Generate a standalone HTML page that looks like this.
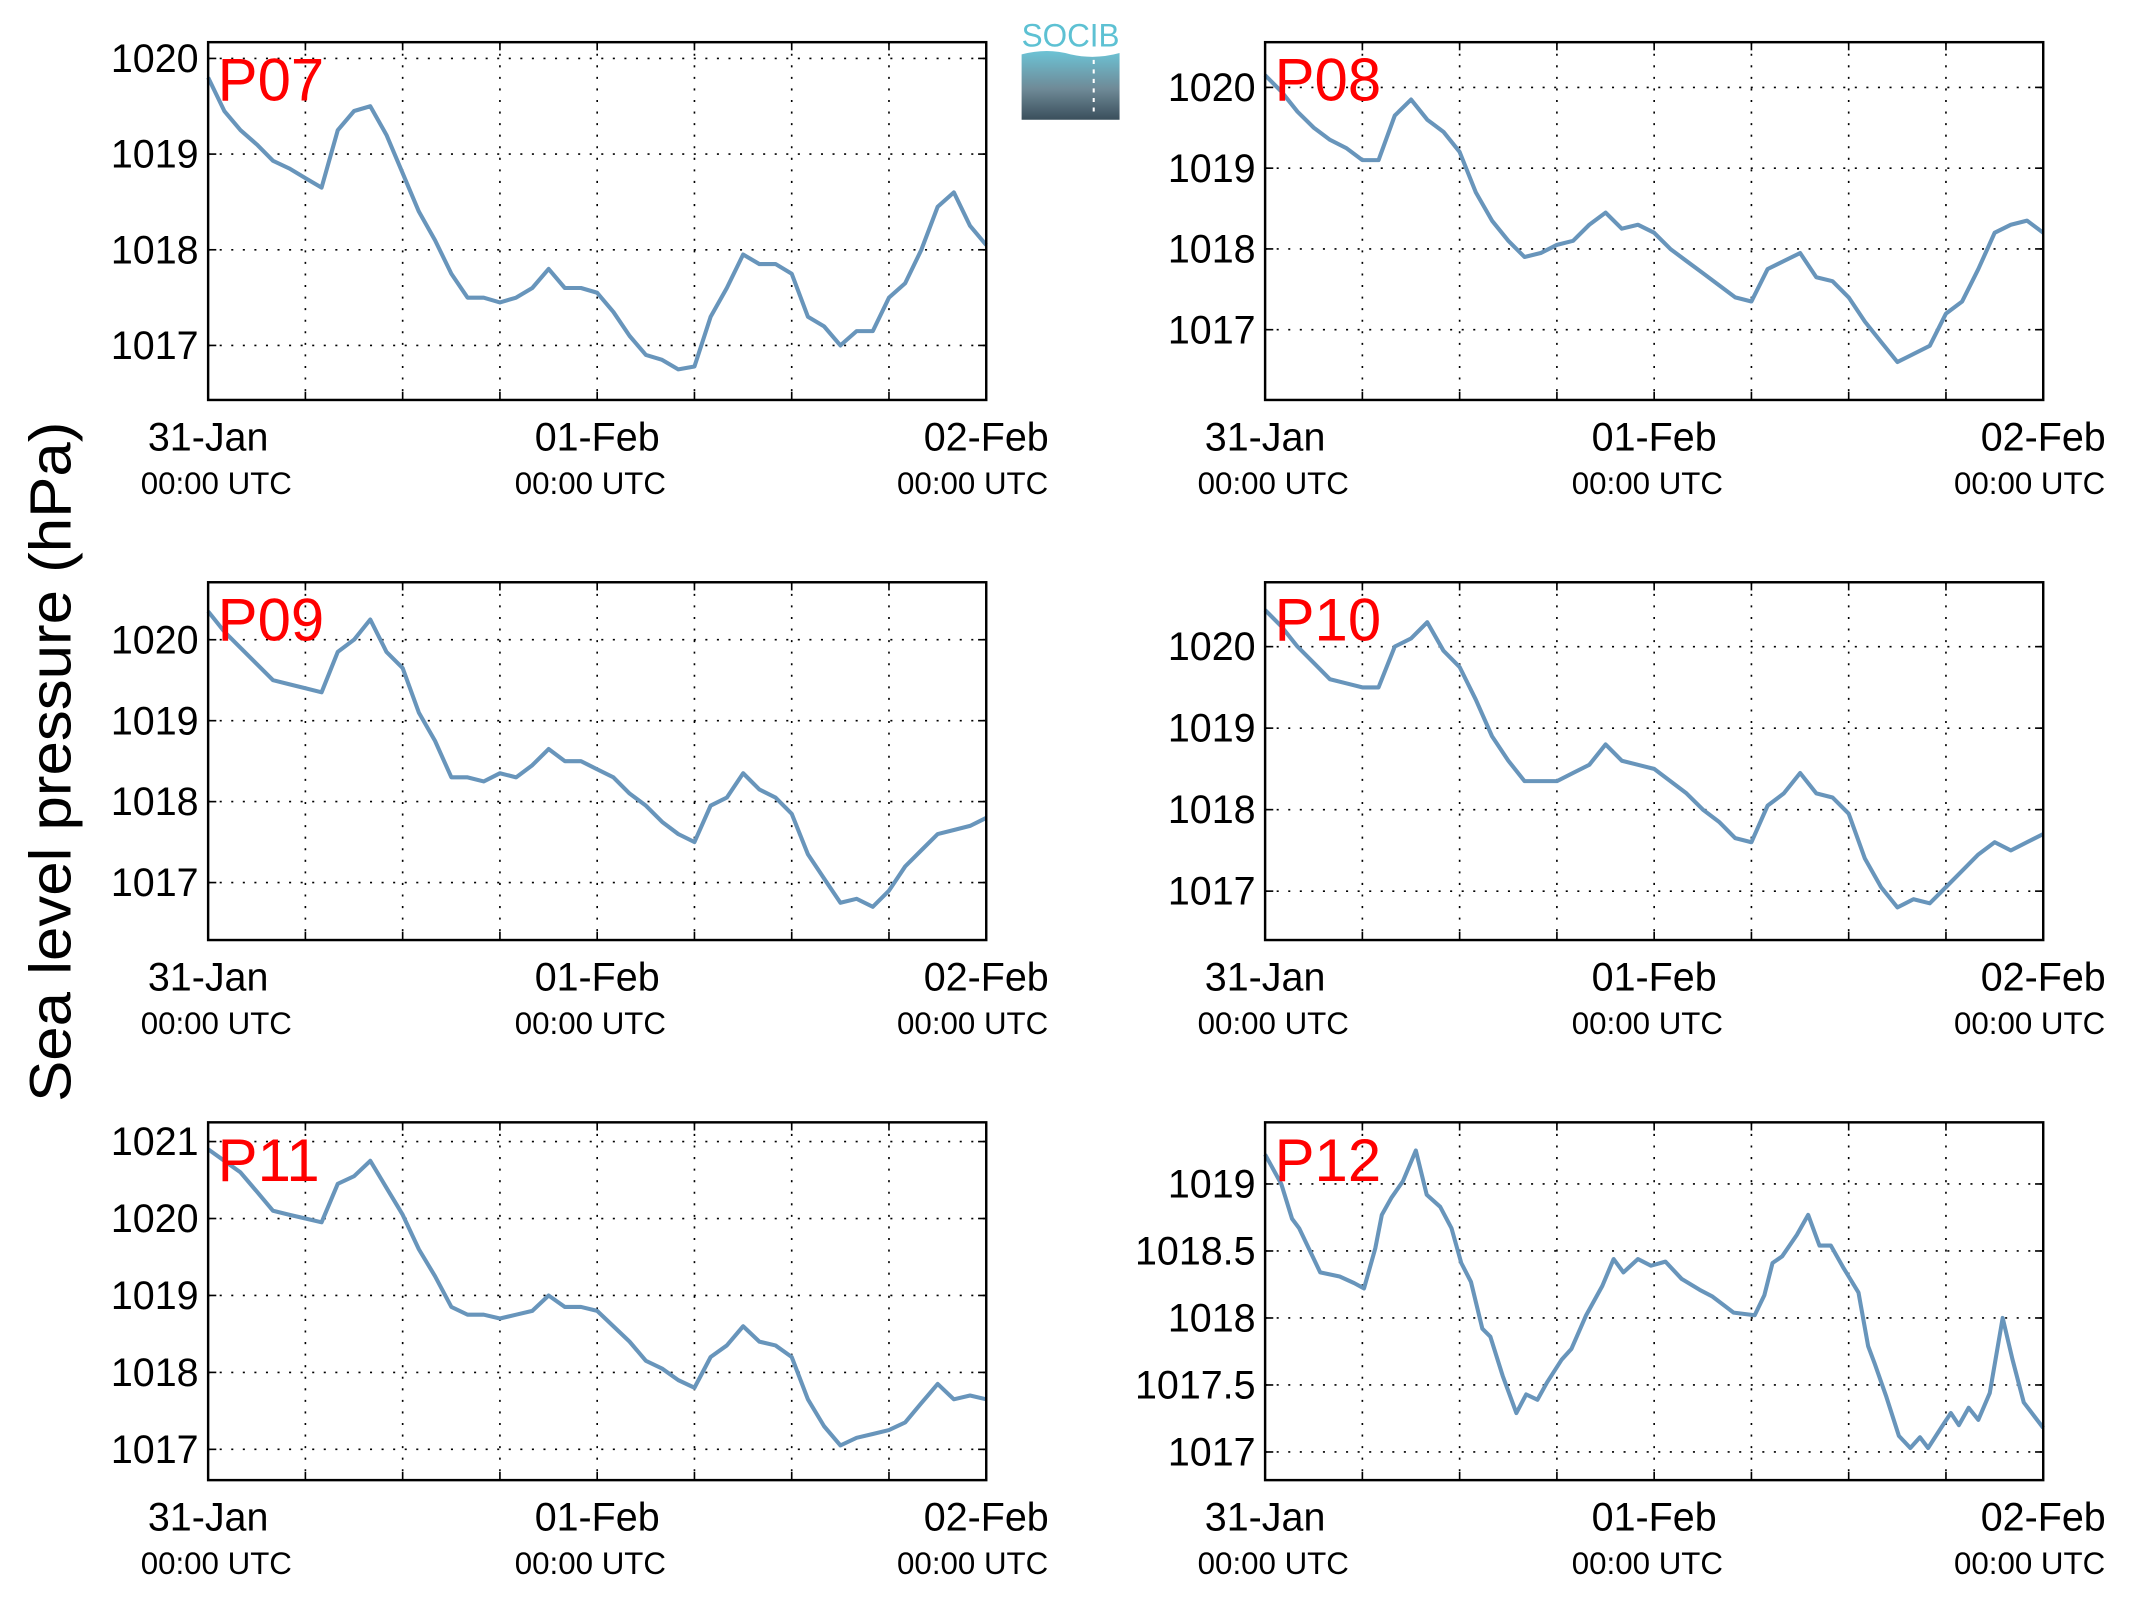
<!DOCTYPE html>
<html><head><meta charset="utf-8"><style>
html,body{margin:0;padding:0;background:#fff}
svg{display:block}
text{font-family:"Liberation Sans",sans-serif}
</style></head><body>
<svg id="fig" width="2133" height="1608" viewBox="0 0 1568 1182" preserveAspectRatio="none" xmlns="http://www.w3.org/2000/svg">
<defs><linearGradient id="lg" x1="0" y1="0" x2="0" y2="1"><stop offset="0" stop-color="#6cc3d5"/><stop offset="0.55" stop-color="#6f8a97"/><stop offset="1" stop-color="#3a4f5c"/></linearGradient></defs>
<g>
<text x="787" y="34" text-anchor="middle" font-size="24" fill="#5dc1d3" textLength="72" lengthAdjust="spacingAndGlyphs">SOCIB</text>
<path d="M751,40 Q770,35 787,40 Q805,44 823,39 L823,88 L751,88 Z" fill="url(#lg)"/>
<line x1="804" y1="44" x2="804" y2="82" stroke="#fff" stroke-width="1.5" stroke-dasharray="3,4"/>
</g>
<text transform="translate(52,560) rotate(-90)" text-anchor="middle" font-size="43" textLength="500" lengthAdjust="spacingAndGlyphs">Sea level pressure (hPa)</text>
<g id="panels"></g>
</svg>
<script>
const p07 = [1019.8,1019.45,1019.25,1019.1,1018.93,1018.85,1018.75,1018.65,1019.25,1019.45,1019.5,1019.2,1018.8,1018.4,1018.1,1017.75,1017.5,1017.5,1017.45,1017.5,1017.6,1017.8,1017.6,1017.6,1017.55,1017.35,1017.1,1016.9,1016.85,1016.75,1016.78,1017.3,1017.6,1017.95,1017.85,1017.85,1017.75,1017.3,1017.2,1017.0,1017.15,1017.15,1017.5,1017.65,1018.0,1018.45,1018.6,1018.25,1018.05];
const p08 = [1020.15,1019.95,1019.7,1019.5,1019.35,1019.25,1019.1,1019.1,1019.65,1019.85,1019.6,1019.45,1019.2,1018.7,1018.35,1018.1,1017.9,1017.95,1018.05,1018.1,1018.3,1018.45,1018.25,1018.3,1018.2,1018.0,1017.85,1017.7,1017.55,1017.4,1017.35,1017.75,1017.85,1017.95,1017.65,1017.6,1017.4,1017.1,1016.85,1016.6,1016.7,1016.8,1017.2,1017.35,1017.75,1018.2,1018.3,1018.35,1018.2];
const p09 = [1020.35,1020.1,1019.9,1019.7,1019.5,1019.45,1019.4,1019.35,1019.85,1020.0,1020.25,1019.85,1019.65,1019.1,1018.75,1018.3,1018.3,1018.25,1018.35,1018.3,1018.45,1018.65,1018.5,1018.5,1018.4,1018.3,1018.1,1017.95,1017.75,1017.6,1017.5,1017.95,1018.05,1018.35,1018.15,1018.05,1017.85,1017.35,1017.05,1016.75,1016.8,1016.7,1016.9,1017.2,1017.4,1017.6,1017.65,1017.7,1017.8];
const p10 = [1020.45,1020.25,1020.0,1019.8,1019.6,1019.55,1019.5,1019.5,1020.0,1020.1,1020.3,1019.95,1019.75,1019.35,1018.9,1018.6,1018.35,1018.35,1018.35,1018.45,1018.55,1018.8,1018.6,1018.55,1018.5,1018.35,1018.2,1018.0,1017.85,1017.65,1017.6,1018.05,1018.2,1018.45,1018.2,1018.15,1017.95,1017.4,1017.05,1016.8,1016.9,1016.85,1017.05,1017.25,1017.45,1017.6,1017.5,1017.6,1017.7];
const p11 = [1020.9,1020.75,1020.6,1020.35,1020.1,1020.05,1020.0,1019.95,1020.45,1020.55,1020.75,1020.4,1020.05,1019.6,1019.25,1018.85,1018.75,1018.75,1018.7,1018.75,1018.8,1019.0,1018.85,1018.85,1018.8,1018.6,1018.4,1018.15,1018.05,1017.9,1017.8,1018.2,1018.35,1018.6,1018.4,1018.35,1018.2,1017.65,1017.3,1017.05,1017.15,1017.2,1017.25,1017.35,1017.6,1017.85,1017.65,1017.7,1017.65];
const p12Hours = [0,1,1.66,2.1,3.4,4.6,5.5,6.1,6.8,7.2,7.8,8.5,9.3,9.97,10.8,11.5,12.1,12.7,13.4,13.9,14.65,15.5,16.1,16.8,17.4,18.3,18.9,19.8,20.8,21.5,22.1,23,23.8,24.7,25.7,26.8,27.6,28.9,30.2,30.8,31.3,31.9,32.8,33.5,34.2,34.9,35.7,36.6,37.2,37.6,38.3,39.1,39.8,40.4,40.9,41.7,42.3,42.8,43.4,44,44.7,45.5,46.1,46.8,48];
const p12 = [1019.22,1019.0,1018.74,1018.67,1018.34,1018.31,1018.26,1018.22,1018.52,1018.77,1018.9,1019.02,1019.25,1018.92,1018.83,1018.67,1018.41,1018.27,1017.92,1017.86,1017.57,1017.29,1017.43,1017.39,1017.52,1017.69,1017.77,1018.02,1018.24,1018.44,1018.34,1018.44,1018.39,1018.42,1018.29,1018.21,1018.16,1018.04,1018.02,1018.17,1018.41,1018.46,1018.62,1018.77,1018.54,1018.54,1018.37,1018.19,1017.79,1017.66,1017.42,1017.12,1017.03,1017.11,1017.03,1017.18,1017.29,1017.2,1017.33,1017.24,1017.44,1018.0,1017.69,1017.37,1017.18];
const dateLabels = ["31-Jan","01-Feb","02-Feb"];
const timeLabel = "00:00 UTC";
const ticks0717 = [1017,1018,1019,1020];
const ticks11 = [1017,1018,1019,1020,1021];
const ticks12 = ["1017","1017.5","1018","1018.5","1019"];

const NS="http://www.w3.org/2000/svg";
const panelsG=document.getElementById('panels');
function mk(tag,attrs,parent){const e=document.createElementNS(NS,tag);for(const k in attrs)e.setAttribute(k,attrs[k]);parent.appendChild(e);return e;}

const panels=[
 {name:"P07",vals:p07,hrs:null,x0:153,y0:31,ymin:1016.43,ymax:1020.17,ticks:ticks0717},
 {name:"P08",vals:p08,hrs:null,x0:930,y0:31,ymin:1016.13,ymax:1020.56,ticks:ticks0717},
 {name:"P09",vals:p09,hrs:null,x0:153,y0:428,ymin:1016.29,ymax:1020.71,ticks:ticks0717},
 {name:"P10",vals:p10,hrs:null,x0:930,y0:428,ymin:1016.4,ymax:1020.79,ticks:ticks0717},
 {name:"P11",vals:p11,hrs:null,x0:153,y0:825,ymin:1016.6,ymax:1021.25,ticks:ticks11},
 {name:"P12",vals:p12,hrs:p12Hours,x0:930,y0:825,ymin:1016.79,ymax:1019.46,ticks:ticks12}
];
const utcShift=[6,-5,-10];
const W=572,H=263;
panels.forEach(p=>{
 const g=mk('g',{},panelsG);
 
 
 const xs=h=>p.x0+h/48*W;
 const ys=v=>p.y0+H-(v-p.ymin)/(p.ymax-p.ymin)*H;
 for(let i=1;i<8;i++){
  const x=xs(i*6);
  const l=mk('line',{x1:x,y1:p.y0,x2:x,y2:p.y0+H,stroke:'#000','stroke-width':1.2,'stroke-dasharray':'1.5,7'},g);
  
  
  mk('line',{x1:x,y1:p.y0,x2:x,y2:p.y0+6,stroke:'#000','stroke-width':1.2},g);
  mk('line',{x1:x,y1:p.y0+H,x2:x,y2:p.y0+H-6,stroke:'#000','stroke-width':1.2},g);
 }
 p.ticks.forEach(t=>{
  const v=parseFloat(t);const y=ys(v);
  const l=mk('line',{x1:p.x0,y1:y,x2:p.x0+W,y2:y,stroke:'#000','stroke-width':1.2,'stroke-dasharray':'1.5,7'},g);
  
  
  mk('line',{x1:p.x0,y1:y,x2:p.x0+6,y2:y,stroke:'#000','stroke-width':1.2},g);
  mk('line',{x1:p.x0+W,y1:y,x2:p.x0+W-6,y2:y,stroke:'#000','stroke-width':1.2},g);
  const tx=mk('text',{x:p.x0-7,y:y+10,'text-anchor':'end','font-size':29},g);
  tx.textContent=String(t);
  
  
 });
 dateLabels.forEach((d,i)=>{
  const x=xs(i*24);
  const t1=mk('text',{x:x,y:p.y0+H+37,'text-anchor':'middle','font-size':29},g);
  t1.textContent=d;
  
  
  const t2=mk('text',{x:x+utcShift[i],y:p.y0+H+69,'text-anchor':'middle','font-size':23},g);
  t2.textContent=timeLabel;
  
  
 });
 const pts=p.vals.map((v,i)=>xs(p.hrs?p.hrs[i]:i).toFixed(1)+','+ys(v).toFixed(1)).join(' ');
 const line=mk('polyline',{points:pts,fill:'none',stroke:'#6895bb','stroke-width':3,'stroke-linejoin':'round'},g);
 
 
 const fr=mk('rect',{x:p.x0,y:p.y0,width:W,height:H,fill:'none',stroke:'#000','stroke-width':1.8},g);
 
 
 const lab=mk('text',{x:p.x0+7,y:p.y0+43,'font-size':44,fill:'#ff0000'},g);
 lab.textContent=p.name;
 
 
});
</script>
</body></html>
